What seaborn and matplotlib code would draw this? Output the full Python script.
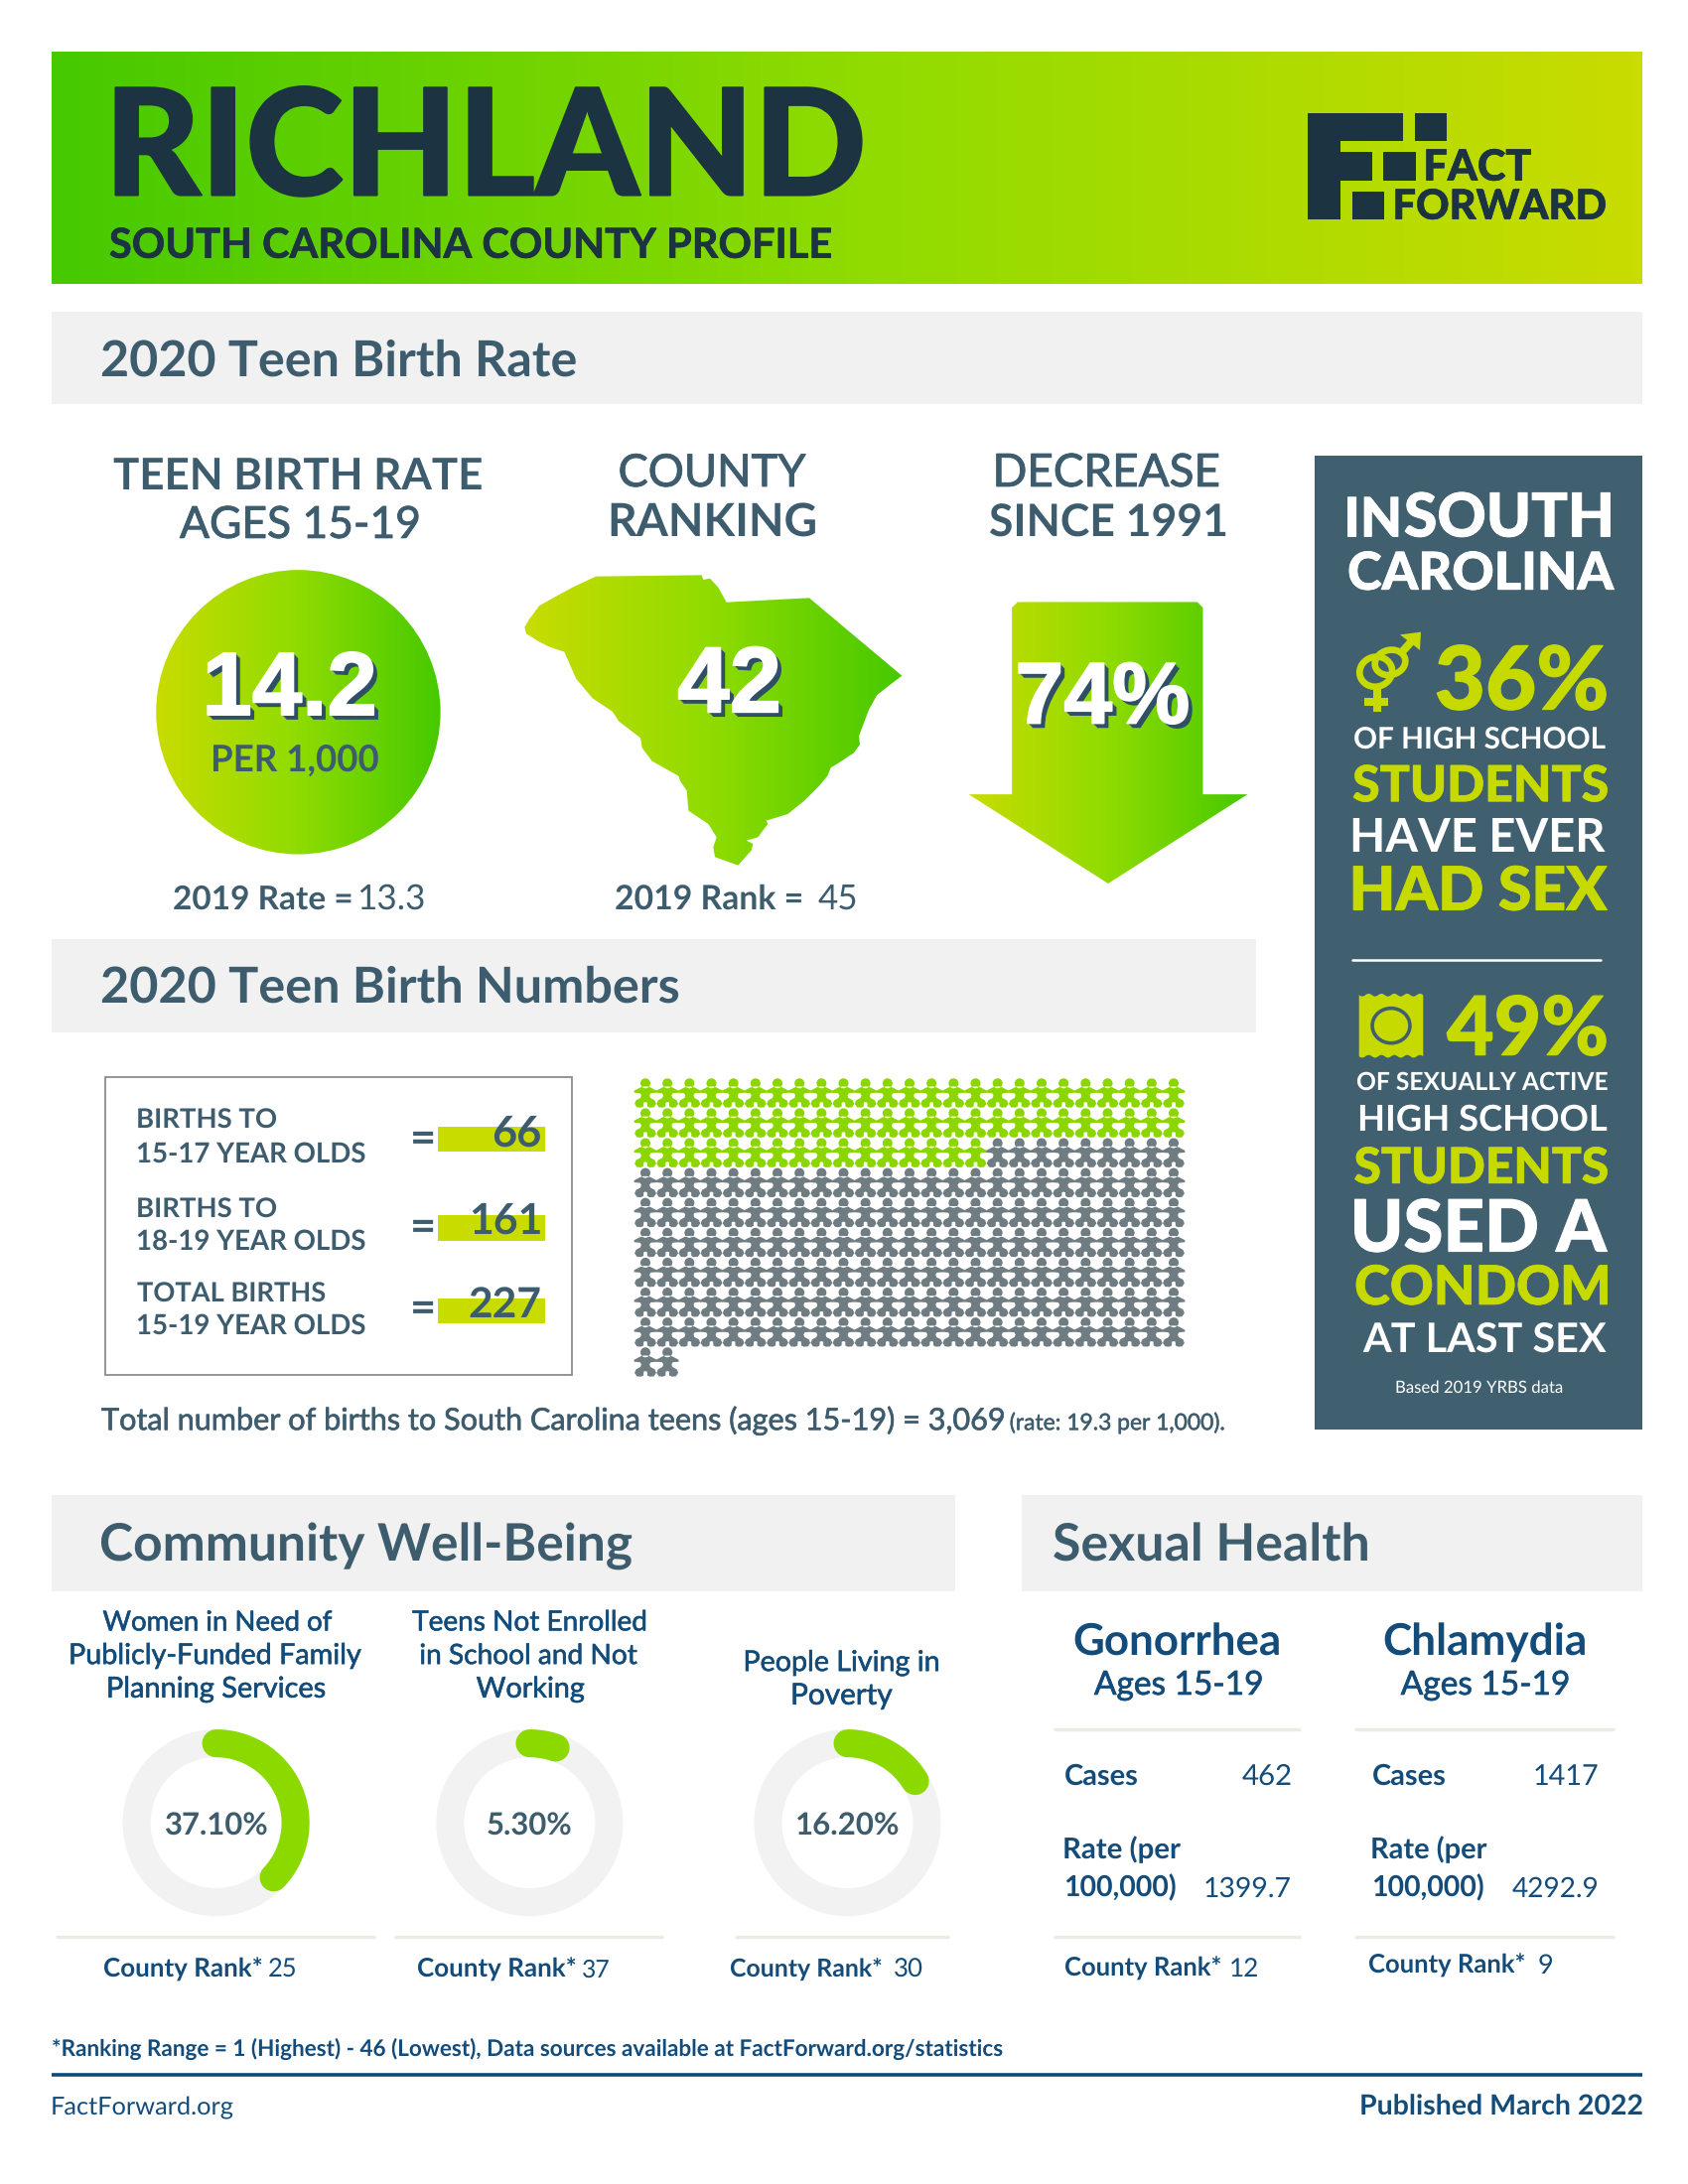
# -*- coding: utf-8 -*-
import numpy as np
import pandas as pd
import matplotlib
matplotlib.use("Agg")
import matplotlib.pyplot as plt
import matplotlib.patheffects as pe
from matplotlib.colors import LinearSegmentedColormap
from matplotlib.font_manager import FontProperties
from matplotlib.patches import Circle, Ellipse, Polygon, Rectangle
from matplotlib.path import Path
from matplotlib.textpath import TextPath
from matplotlib.transforms import Affine2D
import seaborn as sns

# values
COUNTY = "RICHLAND"
TEEN_RATE = "14.2"
RATE_2019 = "13.3"
COUNTY_RANK = "42"
RANK_2019 = "45"
DECREASE = "74%"
BIRTH_LABELS = ["15-17", "18-19", "15-19"]
BIRTH_COUNTS = [66, 161, 227]
WELLBEING_PCT = [37.1, 5.3, 16.2]
WELLBEING_RANK = ["25", "37", "30"]
DISEASES = ["Gonorrhea", "Chlamydia"]
DISEASE_CASES = ["462", "1417"]
DISEASE_RATES = ["1399.7", "4292.9"]
DISEASE_RANKS = ["12", "9"]

# state outline
SC_OUTLINE = [
    (85, 215), (100, 190), (130, 150), (175, 125), (230, 95), (300, 62), (620, 58), (625, 72),
    (645, 68), (670, 95), (695, 140), (945, 127), (1225, 362), (1195, 385), (1150, 420),
    (1125, 465), (1095, 545), (1098, 570), (1080, 595), (1035, 625), (1010, 640), (1000, 665),
    (975, 695), (930, 740), (880, 780), (815, 800), (820, 810), (790, 850), (755, 860),
    (775, 870), (770, 890), (730, 935), (660, 910), (655, 880), (665, 850), (640, 810),
    (580, 770), (575, 710), (555, 680), (550, 665), (470, 620), (440, 580), (435, 550),
    (370, 500), (350, 470), (290, 430), (240, 370), (205, 290), (160, 275), (130, 260), (90, 235),
]

GREEN_L = "#46c900"
LIME = "#c9dc00"
LIME_TXT = "#c6da00"
SLATE = "#3d5c6e"
PANEL = "#41606f"
DARK = "#1c3341"
NAVY = "#134c7a"
BAND = "#f1f1f1"
RULE = "#ececE4"

# drawing coords are the scaled down view of the page, px() goes from real pixels to it
VW, VH = 1211, 1567.2
S = 1700 / VW
px = lambda v: v / S

sns.set_theme(style="white")
plt.rcParams["font.family"] = ["Lato", "DejaVu Sans"]
plt.rcParams["text.hinting"] = "none"

fig = plt.figure(figsize=(17, 22), dpi=100)
ax = fig.add_axes([0, 0, 1, 1])
ax.set_xlim(0, VW)
ax.set_ylim(VH, 0)
ax.axis("off")

head_grad = LinearSegmentedColormap.from_list("head", [GREEN_L, "#8fdb00", LIME])
shape_grad = LinearSegmentedColormap.from_list("shape", [LIME, "#8fdb00", GREEN_L])
ramp = np.linspace(0, 1, 256).reshape(1, -1)


def txt(s, x0, x1, base, weight="regular", color=SLATE, family="Lato", z=10, effects=None):
    # text placed by left edge, right edge and baseline, the size follows from the width
    real = {"medium": "regular", "heavy": "bold"}.get(weight, weight)
    prop = FontProperties(family=family, weight=real)
    ext = TextPath((0, 0), s, size=100, prop=prop).get_extents()
    size = (x1 - x0) * S * 72 / ext.width
    shift = ext.x0 * size / 72 / S
    t = ax.text(x0 - shift, base, s, fontproperties=prop, fontsize=size, color=color,
                ha="left", va="baseline", zorder=z)
    if effects is not None:
        t.set_path_effects(effects)
    elif weight in ("black", "heavy"):
        t.set_path_effects([pe.withStroke(linewidth=size * 0.014, foreground=color)])
    elif weight == "medium":
        t.set_path_effects([pe.withStroke(linewidth=min(size * 0.02, 0.7), foreground=color)])
    return t


def shadow_txt(s, x0, x1, base):
    shadows = [pe.SimplePatchShadow(offset=(k, -k), shadow_rgbFace="#2f4f66", alpha=1) for k in (3.4, 2.6, 1.7, 0.9)]
    txt(s, x0, x1, base, weight="bold", color="white", family="Liberation Sans", z=12,
        effects=shadows + [pe.withStroke(linewidth=1.2, foreground="white")])


def band(x0, x1, y0, y1):
    ax.add_patch(Rectangle((x0, y0), x1 - x0, y1 - y0, fc=BAND, ec="none", zorder=1))


def gradient(x0, x1, y0, y1, cmap, clip=None):
    im = ax.imshow(ramp, extent=(x0, x1, y1, y0), cmap=cmap, aspect="auto", zorder=2,
                   interpolation="bilinear")
    if clip is not None:
        clip.set_transform(ax.transData)
        im.set_clip_path(clip)
    ax.set_xlim(0, VW)
    ax.set_ylim(VH, 0)
    return im


def rule(x0, x1, y, color=RULE, lw=2.4):
    ax.plot([x0, x1], [y, y], color=color, lw=lw, solid_capstyle="butt", zorder=3)


# header
gradient(37, 1178, 38, 204, head_grad)
txt(COUNTY, 83, 618, 140, weight="black", color=DARK)
txt("SOUTH CAROLINA COUNTY PROFILE", 79, 596, 185, weight="heavy", color=DARK)

# logo
logo = lambda x, y: (px(1290 + x / 3), px(100 + y / 3))
f_shape = [(82, 42), (368, 42), (368, 125), (180, 125), (180, 158), (275, 158), (275, 246),
           (180, 246), (180, 362), (82, 362)]
ax.add_patch(Polygon([logo(*p) for p in f_shape], fc=DARK, ec="none", zorder=5))
for sx0, sx1, sy0, sy1 in [(405, 500, 42, 125), (310, 407, 160, 245), (215, 312, 280, 362)]:
    ax.add_patch(Polygon([logo(sx0, sy0), logo(sx1, sy0), logo(sx1, sy1), logo(sx0, sy1)],
                         fc=DARK, ec="none", zorder=5))
txt("FACT", logo(440, 0)[0], logo(755, 0)[0], logo(0, 245)[1], weight="black", color=DARK)
txt("FORWARD", logo(347, 0)[0], logo(980, 0)[0], logo(0, 362)[1], weight="black", color=DARK)

# teen birth rate section
band(37, 1178, 224, 290)
txt("2020 Teen Birth Rate", 73, 413, 270, weight="bold")
txt("TEEN BIRTH RATE", 82, 346, 351, weight="bold")
txt("AGES 15-19", 129, 300, 386, weight="medium")
txt("COUNTY", 445, 578, 349, weight="medium")
txt("RANKING", 438, 585, 385, weight="bold")
txt("DECREASE", 715, 874, 349, weight="medium")
txt("SINCE 1991", 710, 879, 385, weight="bold")

gradient(112, 316, 409, 613, shape_grad, clip=Circle((214, 511), 102))
shadow_txt(TEEN_RATE, 149, 268, 513)
txt("PER 1,000", 153, 271, 553, weight="bold")
txt("2019 Rate =", 125, 252, 652, weight="bold")
txt(RATE_2019, 258, 304, 652)

sc_pts = [(px(500 + x / 3), px(560 + y / 3)) for x, y in SC_OUTLINE]
sc_x = [p[0] for p in sc_pts]
gradient(min(sc_x), max(sc_x), 405, 625, shape_grad, clip=Polygon(sc_pts))
shadow_txt(COUNTY_RANK, 487, 558, 511)
txt("2019 Rank =", 442, 575, 652, weight="bold")
txt(RANK_2019, 587, 614, 652)

arrow = [(726, 436), (730, 432), (859, 432), (863, 436), (863, 570), (895, 570), (795, 634), (695, 570), (726, 570)]
gradient(695, 895, 432, 634, shape_grad, clip=Polygon(arrow))
shadow_txt(DECREASE, 731, 852, 519)

# side panel
ax.add_patch(Rectangle((943, 327), 235, 699, fc=PANEL, ec="none", zorder=1))
txt("IN", 967, 1003, 385, weight="black", color="white")
txt("SOUTH", 1008, 1155, 385, weight="black", color="white")
txt("CAROLINA", 968, 1158, 423, weight="black", color="white")
# gender symbol
gs = lambda x, y: (px(1350 + x / 3), px(630 + y / 3))
g_lw = 20 / 3 * 0.72
ax.add_patch(Ellipse(gs(107, 140), px(33), px(30), angle=-15, fc="none", ec=LIME_TXT, lw=g_lw, zorder=5))
ax.add_patch(Ellipse(gs(150, 112), px(31), px(25), angle=-15, fc="none", ec=LIME_TXT, lw=g_lw, zorder=5))
ax.plot(*zip(gs(110, 190), gs(110, 262)), color=LIME_TXT, lw=g_lw * 1.2, solid_capstyle="butt", zorder=5)
ax.plot(*zip(gs(72, 230), gs(145, 230)), color=LIME_TXT, lw=g_lw * 1.2, solid_capstyle="butt", zorder=5)
ax.plot(*zip(gs(188, 78), gs(215, 48)), color=LIME_TXT, lw=g_lw * 1.2, solid_capstyle="butt", zorder=5)
ax.add_patch(Polygon([gs(180, 28), gs(243, 20), gs(240, 75)], fc=LIME_TXT, ec="none", zorder=5))
txt("36%", 1031, 1152, 509, weight="black", color=LIME_TXT)
txt("OF HIGH SCHOOL", 972, 1152, 538, weight="bold", color="white")
txt("STUDENTS", 971, 1153, 575, weight="black", color=LIME_TXT)
txt("HAVE EVER", 971, 1152, 611, weight="bold", color="white")
txt("HAD SEX", 971, 1153, 653, weight="black", color=LIME_TXT)
ax.plot([970, 1148], [689, 689], color="white", lw=1.8, zorder=5)
# wrapper with a wavy top and bottom
wave_x = np.linspace(975, 1021, 60)
wave = 1.0 * np.sin((wave_x - 975) / 46 * 2 * np.pi * 5)
wrapper = list(zip(wave_x, 714 + wave)) + list(zip(wave_x[::-1], 758 + wave[::-1]))
ax.add_patch(Polygon(wrapper, fc=LIME_TXT, ec="none", zorder=5))
ax.add_patch(Ellipse((998, 736), 27, 25, fc=LIME_TXT, ec=PANEL, lw=2.6, zorder=6))
txt("49%", 1038, 1152, 757, weight="black", color=LIME_TXT)
txt("OF SEXUALLY ACTIVE", 974, 1153, 782, weight="bold", color="white")
txt("HIGH SCHOOL", 976, 1153, 811, weight="bold", color="white")
txt("STUDENTS", 972, 1153, 849, weight="black", color=LIME_TXT)
txt("USED A", 972, 1153, 898, weight="black", color="white")
txt("CONDOM", 973, 1153, 936, weight="black", color=LIME_TXT)
txt("AT LAST SEX", 977, 1152, 971, weight="bold", color="white")
txt("Based 2019 YRBS data", 1002, 1121, 999, color="white")

# teen birth numbers section
band(37, 901, 674, 741)
txt("2020 Teen Birth Numbers", 73, 486, 719, weight="bold")
ax.add_patch(Rectangle((75.5, 773), 335, 213.5, fc="white", ec="#8c8c8c", lw=1.3, zorder=2))
row_y = [(809, 834, 826.8, 808.5, 826.3, 822.8), (873.3, 897, 890.7, 872, 890.5, 885.5),
         (934, 957, 949, 931.7, 949.6, 945)]
titles = [("BIRTHS TO", 99.2, 198), ("BIRTHS TO", 99.2, 198), ("TOTAL BIRTHS", 98.3, 232.7)]
val_x = [354, 338.4, 337]
for i, (b1, b2, eq, y0, y1, vb) in enumerate(row_y):
    txt(titles[i][0], titles[i][1], titles[i][2], b1, weight="bold")
    txt(BIRTH_LABELS[i] + " YEAR OLDS", 99.2, 262, b2, weight="bold")
    txt("=", 296.3, 310.6, eq, weight="bold")
    ax.add_patch(Rectangle((314, y0), 77, y1 - y0, fc=LIME, ec="none", zorder=3))
    txt(str(BIRTH_COUNTS[i]), val_x[i], 387.5, vb, weight="bold")

# one figure per birth, 15-17 first
total = BIRTH_COUNTS[2]
waffle = pd.DataFrame({"n": np.arange(total)})
waffle["col"] = waffle["n"] % 25
waffle["row"] = waffle["n"] // 25
waffle["group"] = np.where(waffle["n"] < BIRTH_COUNTS[0], "15-17", "18-19")

half = [(0.13, 0.44), (0.34, 0.38), (0.76, 0.16), (0.78, 0.02), (0.36, -0.02), (0.28, -0.16),
        (0.34, -0.34), (0.64, -0.50), (0.74, -0.74), (0.58, -0.98), (0.30, -1.0), (0.13, -0.92),
        (0.12, -0.66), (0.0, -0.62)]
body = half + [(-x, y) for x, y in half[-2::-1]]
person = Path.make_compound_path(
    Path(body + [body[0]], closed=True),
    Path.unit_circle().transformed(Affine2D().scale(0.34).translate(0, 0.66)),
)

x_first, x_last, y_first, y_last = px(650), px(1182), px(1101), px(1372)
cell_w, cell_h = (x_last - x_first) / 24, (y_last - y_first) / 9
wax = fig.add_axes([(x_first - cell_w / 2) / VW, 1 - (y_first - cell_h / 2 + 10 * cell_h) / VH,
                    25 * cell_w / VW, 10 * cell_h / VH])
sns.scatterplot(data=waffle, x="col", y="row", hue="group", palette={"15-17": "#8cd600", "18-19": "#6f7c82"},
                marker=person, s=450, linewidth=0, legend=False, ax=wax, clip_on=False)
wax.set_xlim(-0.5, 24.5)
wax.set_ylim(9.5, -0.5)
wax.axis("off")

txt("Total number of births to South Carolina teens (ages 15-19) = 3,069", 73, 720, 1026, weight="medium")
txt("(rate: 19.3 per 1,000).", 725, 878, 1026, weight="medium")

# community well-being
band(37, 685, 1073, 1142)
txt("Community Well-Being", 73, 454, 1120, weight="bold")
band(733, 1178, 1073, 1142)
txt("Sexual Health", 756, 981, 1120, weight="bold")

wb_titles = [
    [("Women in Need of", 74, 238, 1170), ("Publicly-Funded Family", 51, 259, 1194), ("Planning Services", 78, 233, 1218)],
    [("Teens Not Enrolled", 296, 463, 1170), ("in School and Not", 302, 457, 1194), ("Working", 342, 419, 1218)],
    [("People Living in", 535, 673, 1199), ("Poverty", 569, 640, 1223)],
]
wb_cx = [155, 380, 608]
wb_pct_x = [(119, 192), (350, 410), (572, 645)]
wb_rank_x = [(75, 188, 193, 212), (300, 413, 418, 437), (524, 632, 642, 662)]
wb_rule = [(40, 269), (283, 476), (527, 681)]
R = 57
for i, pct in enumerate(WELLBEING_PCT):
    for s, x0, x1, b in wb_titles[i]:
        txt(s, x0, x1, b, weight="medium", color=NAVY)
    cx, cy = wb_cx[i], 1308
    ax.add_patch(Circle((cx, cy), R, fc="none", ec="#f2f2f2", lw=20 * S * 0.72, zorder=2))
    # clockwise from twelve o'clock
    theta = np.linspace(0, 2 * np.pi * pct / 100, 120)
    ax.plot(cx + R * np.sin(theta), cy - R * np.cos(theta), color="#8cd900", lw=20 * S * 0.72,
            solid_capstyle="round", zorder=3)
    txt(f"{pct:.2f}%", wb_pct_x[i][0], wb_pct_x[i][1], 1316, weight="bold")
    rule(wb_rule[i][0], wb_rule[i][1], 1390)
    rx = wb_rank_x[i]
    txt("County Rank*", rx[0], rx[1], 1419, weight="bold", color=NAVY)
    txt(WELLBEING_RANK[i], rx[2], rx[3], 1419, color=NAVY)

# sexual health
sh = [
    dict(name=(771, 918), ages=(785, 905), col=764, case_x=(891, 926), rate_lab=(764, 847), rate2=(764, 843),
         rate_x=(865, 926), rank=(764, 875, 883, 902, 1418), rule=(756, 933)),
    dict(name=(993, 1137), ages=(1005, 1125), col=985, case_x=(1101, 1146), rate_lab=(985, 1067), rate2=(985, 1064),
         rate_x=(1085, 1146), rank=(982, 1093, 1104, 1113, 1416), rule=(972, 1158)),
]
for i, d in enumerate(sh):
    txt(DISEASES[i], d["name"][0], d["name"][1], 1188, weight="bold", color=NAVY)
    txt("Ages 15-19", d["ages"][0], d["ages"][1], 1216, weight="medium", color=NAVY)
    rule(d["rule"][0], d["rule"][1], 1241)
    txt("Cases", d["col"], d["col"] + 52, 1281, weight="bold", color=NAVY)
    txt(DISEASE_CASES[i], d["case_x"][0], d["case_x"][1], 1281, color=NAVY)
    txt("Rate (per", d["rate_lab"][0], d["rate_lab"][1], 1334, weight="bold", color=NAVY)
    txt("100,000)", d["rate2"][0], d["rate2"][1], 1361, weight="bold", color=NAVY)
    txt(DISEASE_RATES[i], d["rate_x"][0], d["rate_x"][1], 1361, color=NAVY)
    rule(d["rule"][0], d["rule"][1], 1390)
    r = d["rank"]
    txt("County Rank*", r[0], r[1], r[4], weight="bold", color=NAVY)
    txt(DISEASE_RANKS[i], r[2], r[3], r[4], color=NAVY)

# footer
txt("*Ranking Range = 1 (Highest) - 46 (Lowest), Data sources available at FactForward.org/statistics",
    38, 720, 1475, weight="bold", color=NAVY)
ax.plot([37, 1178], [1489, 1489], color="#0e4a7c", lw=2.6, solid_capstyle="butt", zorder=3)
txt("FactForward.org", 38, 168, 1517, color=NAVY)
txt("Published March 2022", 977, 1178, 1518, weight="bold", color=NAVY)

fig.savefig("out.png", dpi=100, facecolor="white")
plt.close(fig)
